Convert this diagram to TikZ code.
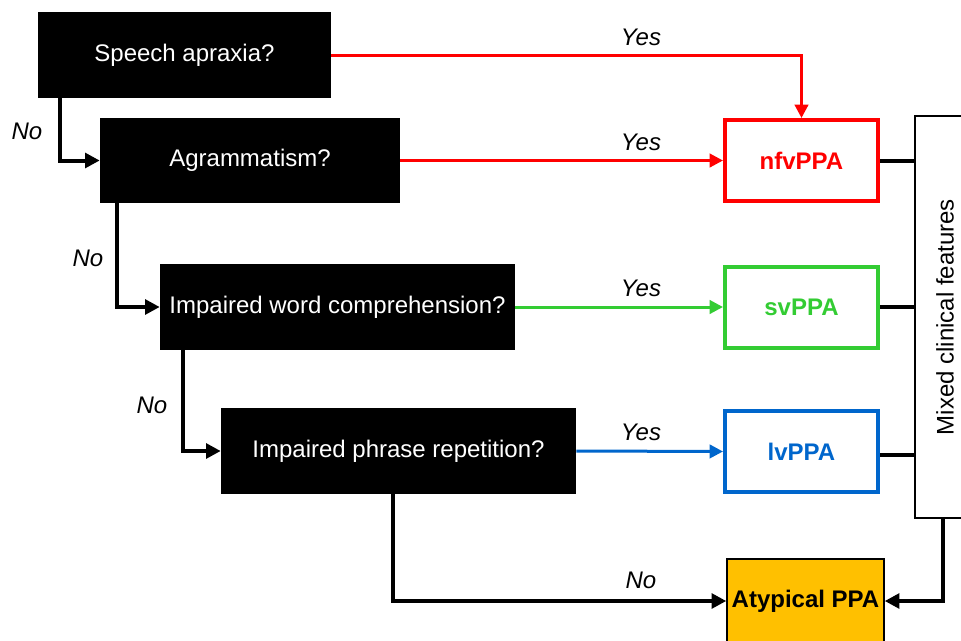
\documentclass[tikz,border=0pt]{standalone}
\usepackage{fontspec}
\setmainfont{Liberation Sans}
\usepackage{xcolor}
\usetikzlibrary{arrows.meta}
\definecolor{nfvred}{RGB}{255,0,0}
\definecolor{svgreen}{RGB}{51,204,51}
\definecolor{lvblue}{RGB}{0,102,204}
\definecolor{atyporange}{RGB}{255,192,0}
\tikzset{
  question/.style={fill=black,text=white,inner sep=0pt,minimum height=64.5pt,font=\fontsize{18}{20}\selectfont},
  result/.style={draw,line width=3pt,fill=white,inner sep=0pt,minimum width=114.75pt,minimum height=60.75pt,font=\fontsize{18}{20}\selectfont\bfseries},
  answer/.style={font=\fontsize{18}{20}\selectfont\itshape},
  noline/.style={line width=3pt,-{Triangle[length=11pt,width=11pt]}},
  yesline/.style={line width=2.25pt,-{Triangle[length=10pt,width=10pt]}}
}
\begin{document}
\begin{tikzpicture}[x=0.75pt,y=-0.75pt]
\clip (0,0) rectangle (961,640);
\node (q1) at (184.5,55) [question,minimum width=219.75pt] {Speech apraxia?};
\node (q2) at (250,160.5) [question,minimum width=225pt,minimum height=63.75pt] {Agrammatism?};
\node (q3) at (337.5,307) [question,minimum width=266.25pt] {Impaired word comprehension?};
\node (q4) at (398.5,451) [question,minimum width=266.25pt] {Impaired phrase repetition?};
\node (nfv) at (801.5,160.5) [result,draw=nfvred,text=nfvred] {nfvPPA};
\node (sv) at (801.5,307) [result,draw=svgreen,text=svgreen] {svPPA};
\node (lv) at (801.5,451.5) [result,draw=lvblue,text=lvblue] {lvPPA};
\node (atyp) at (805.5,601) [draw,line width=1.1pt,fill=atyporange,inner sep=0pt,minimum width=117.75pt,minimum height=63pt,font=\fontsize{18}{20}\selectfont\bfseries] {Atypical PPA};
\node (mixed) at (945,317) [draw,line width=1.1pt,fill=white,inner sep=0pt,minimum width=301.5pt,minimum height=45pt,rotate=90,font=\fontsize{18}{20}\selectfont] {Mixed clinical features};
% yes branches
\draw[yesline,nfvred] (q1.east) -| (nfv.north);
\draw[yesline,nfvred] (q2.east) -- (nfv.west);
\draw[yesline,svgreen] (q3.east) -- (sv.west);
\draw[yesline,lvblue] (q4.east) -- (lv.west);
\node (y1) at (641,37) [answer] {Yes};
\node (y2) at (641,142) [answer] {Yes};
\node (y3) at (641,288) [answer] {Yes};
\node (y4) at (641,432) [answer] {Yes};
% no branches
\draw[noline] ([xshift=16.5pt]q1.south west) |- (q2.west);
\draw[noline] ([xshift=12.75pt]q2.south west) |- (q3.west);
\draw[noline] ([xshift=17.25pt]q3.south west) |- (q4.west);
\draw[noline] ([xshift=129pt]q4.south west) |- (atyp.west);
\node (n1) at (27,131) [answer] {No};
\node (n2) at (88,258) [answer] {No};
\node (n3) at (152,405) [answer] {No};
\node (n4) at (641,580) [answer] {No};
% mixed features
\draw[line width=3pt] (nfv.east) -- (nfv.east -| mixed.north);
\draw[line width=3pt] (sv.east) -- (sv.east -| mixed.north);
\draw[line width=3pt] ([yshift=-2.5pt]lv.east) -- ([yshift=-2.5pt]lv.east -| mixed.north);
\draw[noline] ([xshift=-1.5pt]mixed.west) |- (atyp.east);
\end{tikzpicture}
\end{document}
